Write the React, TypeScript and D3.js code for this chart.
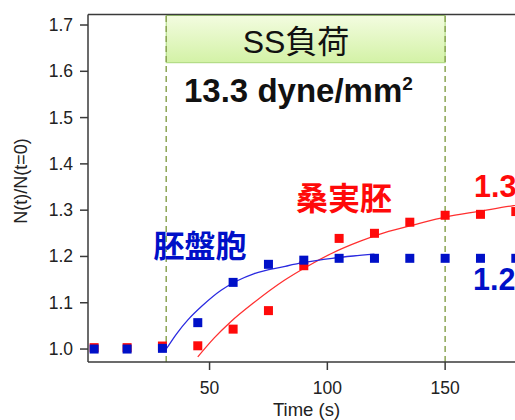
import React from "react";
import * as d3 from "d3";

const times = [1, 15, 30, 45, 60, 75, 90, 105, 120, 135, 150, 165, 180];
const blastocyst = [1.0, 1.0, 1.0015, 1.057, 1.144, 1.183, 1.192, 1.196, 1.196, 1.196, 1.196, 1.196, 1.196];
const morula = [1.003, 1.003, 1.0065, 1.007, 1.043, 1.083, 1.18, 1.239, 1.25, 1.274, 1.289, 1.291, 1.297];

const blueFitT = [31.6, 36, 40.8, 47, 54.9, 62, 69, 81.6, 90, 102, 111, 120];
const blueFitV = [1.0, 1.033, 1.063, 1.094, 1.127, 1.148, 1.163, 1.178, 1.187, 1.196, 1.201, 1.205];
const redFitT = [45, 52, 59, 69, 81.6, 92, 102, 114, 126, 138, 150, 165, 179, 195];
const redFitV = [0.983, 1.024, 1.059, 1.101, 1.148, 1.18, 1.207, 1.233, 1.254, 1.27, 1.285, 1.298, 1.31, 1.32];

const yTicks = [1.0, 1.1, 1.2, 1.3, 1.4, 1.5, 1.6, 1.7];
const xTicks = [50, 100, 150, 200];
const ssStart = 31.6;
const ssEnd = 150;

const LATIN = "'Liberation Sans', Arial, 'Noto Sans CJK JP', sans-serif";

export default function App() {
  const W = 515, H = 420;
  const left = 88, top = 14.5, bottom = 362, right = 525;
  const x = d3.scaleLinear().domain([-1.6, 183.9]).range([left, right]);
  const y = d3.scaleLinear().domain([0.972, 1.7227]).range([bottom, top]);

  const line = d3
    .line<[number, number]>()
    .x((d) => x(d[0]))
    .y((d) => y(d[1]))
    .curve(d3.curveMonotoneX);

  const blueFit = blueFitT.map((t, i) => [t, blueFitV[i]] as [number, number]);
  const redFit = redFitT.map((t, i) => [t, redFitV[i]] as [number, number]);

  const sq = 9;
  const blue = "#0010c8";
  const red = "#ff0a0a";
  const axisColor = "#3a3a3a";
  const dashColor = "#8ba454";

  return (
    <svg
      width={W}
      height={H}
      style={{ position: "fixed", left: 0, top: 0, background: "#fff" }}
      fontFamily={LATIN}
    >
      <defs>
        <linearGradient id="ssg" x1="0" y1="0" x2="0" y2="1">
          <stop offset="0" stopColor="#f3fce0" />
          <stop offset="1" stopColor="#d3f2a6" />
        </linearGradient>
        <clipPath id="plotclip">
          <rect x={left} y={top} width={right - left} height={bottom - top} />
        </clipPath>
      </defs>

      {/* SS load box */}
      <rect
        x={x(ssStart)}
        y={15.5}
        width={x(ssEnd) - x(ssStart)}
        height={62.7 - 15.5}
        fill="url(#ssg)"
        stroke="#a9d77a"
        strokeWidth={1}
      />
      <text x={296} y={53} textAnchor="middle" fontSize={32} fill="#111">
        SS負荷
      </text>

      {/* dashed lines */}
      {[ssStart, ssEnd].map((t) => (
        <line
          key={t}
          x1={x(t)}
          x2={x(t)}
          y1={16}
          y2={bottom}
          stroke={dashColor}
          strokeWidth={1.5}
          strokeDasharray="6,4"
        />
      ))}

      <text x={184} y={102} fontSize={33} fontWeight="bold" fill="#111">
        13.3 dyne/mm
        <tspan fontSize={19} dy={-12}>2</tspan>
      </text>

      {/* fits */}
      <g clipPath="url(#plotclip)">
        <path d={line(redFit) || ""} fill="none" stroke="#ff3030" strokeWidth={1.3} />
        <path d={line(blueFit) || ""} fill="none" stroke="#2a2ae0" strokeWidth={1.3} />
      </g>

      {/* points */}
      <g>
        {times.map((t, i) => (
          <rect
            key={"r" + t}
            x={x(t) - sq / 2}
            y={y(morula[i]) - sq / 2}
            width={sq}
            height={sq}
            fill={red}
          />
        ))}
        {times.map((t, i) => (
          <rect
            key={"b" + t}
            x={x(t) - sq / 2}
            y={y(blastocyst[i]) - sq / 2}
            width={sq}
            height={sq}
            fill={blue}
          />
        ))}
      </g>

      {/* labels */}
      <text x={200} y={257} textAnchor="middle" fontSize={31} fontWeight="bold" fill={blue}>
        胚盤胞
      </text>
      <text x={344} y={210} textAnchor="middle" fontSize={32} fontWeight="bold" fill={red}>
        桑実胚
      </text>
      <text x={474} y={197} fontSize={30.5} fontWeight="bold" fill={red}>
        1.31
      </text>
      <text x={473} y={290} fontSize={30.5} fontWeight="bold" fill={blue}>
        1.20
      </text>

      {/* axes frame */}
      <line x1={left} x2={W + 20} y1={top} y2={top} stroke={axisColor} strokeWidth={1.5} />
      <line x1={left} x2={left} y1={top} y2={bottom} stroke={axisColor} strokeWidth={1.5} />
      <line x1={left} x2={W + 20} y1={bottom} y2={bottom} stroke={axisColor} strokeWidth={1.5} />

      {/* y ticks */}
      {yTicks.map((v) => (
        <g key={v}>
          <line x1={left - 8} x2={left} y1={y(v)} y2={y(v)} stroke={axisColor} strokeWidth={1.5} />
          <text x={73} y={y(v) + 6} textAnchor="end" fontSize={17.5} fill="#222">
            {v.toFixed(1)}
          </text>
        </g>
      ))}

      {/* x ticks */}
      {xTicks.map((v) => (
        <g key={v}>
          <line x1={x(v)} x2={x(v)} y1={bottom} y2={bottom + 8} stroke={axisColor} strokeWidth={1.5} />
          <text x={x(v)} y={393.5} textAnchor="middle" fontSize={17.5} fill="#222">
            {v}
          </text>
        </g>
      ))}

      <text x={306.5} y={416} textAnchor="middle" fontSize={18.5} fill="#222">
        Time (s)
      </text>
      <text
        transform="translate(27,181) rotate(-90)"
        textAnchor="middle"
        fontSize={18}
        fill="#222"
      >
        N(t)/N(t=0)
      </text>
    </svg>
  );
}
